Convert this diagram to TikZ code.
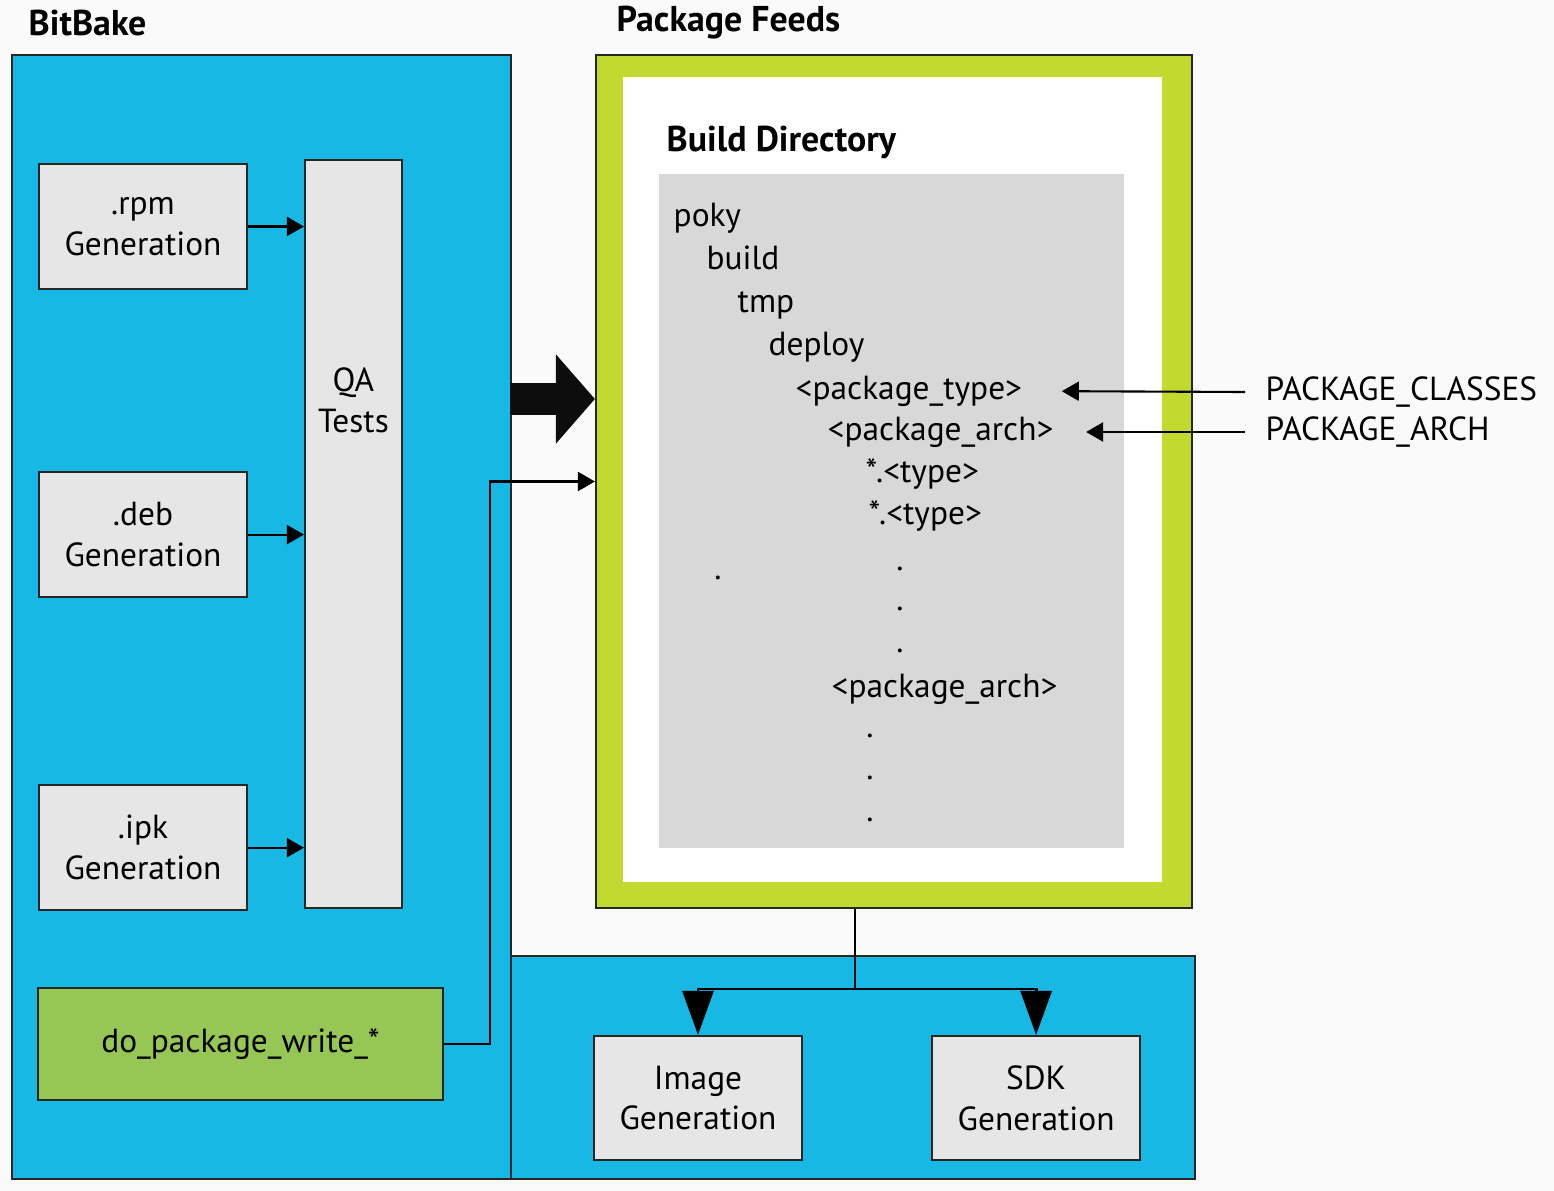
\documentclass[tikz,border=0pt]{standalone}
\usepackage{fontspec}
\setmainfont{PT Sans}
\usetikzlibrary{positioning,arrows.meta}

\definecolor{bakeblue}{HTML}{17B8E3}
\definecolor{feedgreen}{HTML}{C2D930}
\definecolor{taskgreen}{HTML}{96C655}
\definecolor{boxgrey}{HTML}{E6E6E6}
\definecolor{dirgrey}{HTML}{D8D8D8}
\definecolor{paper}{HTML}{FAFAFA}

\newcommand{\txt}{\fontsize{9.5}{11.6}\selectfont}

\tikzset{
  panel/.style={draw=black!85, line width=0.6pt, fill=bakeblue},
  genbox/.style={draw=black!85, line width=0.6pt, fill=boxgrey, align=center, font=\txt,
    minimum width=20.8mm, minimum height=12.5mm},
  entry/.style={anchor=west, inner sep=0pt, font=\txt, text height=0.75em, text depth=0.25em},
  dotmark/.style={anchor=base, inner sep=0pt, font=\txt},
  heading/.style={anchor=west, inner sep=0pt, font=\fontsize{10.2}{12}\selectfont\bfseries},
  tip/.style={line width=0.6pt, -{Triangle[length=1.7mm,width=1.9mm]}},
  bigtip/.style={line width=0.8pt, -{Triangle[length=4.4mm,width=3.1mm]}}
}

\begin{document}
\begin{tikzpicture}[x=0.1mm, y=-0.1mm]
  \fill[paper] (0,0) rectangle (1554,1191);
  \useasboundingbox (0,0) rectangle (1554,1191);

  % panels
  \node[panel, minimum width=49.9mm, minimum height=112.4mm] (bitbake) at (261.5,617) {};
  \node[panel, minimum width=68.4mm, minimum height=22.3mm] (outputs) at (853,1067.5) {};
  \node[draw=black!85, line width=0.6pt, fill=feedgreen, minimum width=59.6mm, minimum height=85.3mm] (feeds) at (894,481.5) {};
  \node[fill=white, minimum width=53.9mm, minimum height=80.5mm] (builddir) at (892.5,479.5) {};
  \node[fill=dirgrey, minimum width=46.5mm, minimum height=67.4mm] (tree) at (891.5,511) {};

  \node[heading] at (28,23) {BitBake};
  \node[heading] at (616,23) {Package Feeds};
  \node[heading] at (666,142) {Build Directory};

  % bitbake side
  \node[genbox] (rpm) at (143,226.5) {.rpm\\Generation};
  \node[genbox, below=18.1mm of rpm] (deb) {.deb\\Generation};
  \node[genbox, below=18.6mm of deb] (ipk) {.ipk\\Generation};
  \node[genbox, minimum width=9.7mm, minimum height=74.8mm] (qa) at (353.5,534) {};
  \node[align=center, font=\txt] (qalabel) at (353.5,400) {QA\\Tests};
  \node[genbox, fill=taskgreen, minimum width=40.5mm, minimum height=11.2mm] (dopkg) at (240.5,1044) {do\_package\_write\_*};

  \draw[tip] (rpm.east) -- (rpm.east -| qa.west);
  \draw[tip] (deb.east) -- (deb.east -| qa.west);
  \draw[tip] (ipk.east) -- (ipk.east -| qa.west);

  % into the feeds
  \coordinate (bigfrom) at (510,399);
  \draw[line width=3.2mm, -{Triangle[length=3.9mm,width=8.7mm]}, black!95] (bigfrom) -- (bigfrom -| feeds.west);
  \draw[tip] (dopkg.east) -- ++(46,0) |- (feeds.west);

  % directory tree
  \node[entry] (poky) at (673,218) {poky};
  \node[entry] (build) at (706,261) {build};
  \node[entry] (tmp) at (737,304) {tmp};
  \node[entry] (deploy) at (768,347) {deploy};
  \node[entry] (ptype) at (795,391) {<package\_type>};
  \node[entry] (parch) at (827,432) {<package\_arch>};
  \node[entry] (type1) at (865,474) {*.<type>};
  \node[entry] (type2) at (868,516) {*.<type>};
  \node[dotmark] (d0) at (718,579) {.};
  \foreach \y [count=\i] in {570,610,652}
    \node[dotmark] (da\i) at (900,\y) {.};
  \node[entry] (parch2) at (831,689) {<package\_arch>};
  \foreach \y [count=\i] in {737,779,821}
    \node[dotmark] (db\i) at (870,\y) {.};

  % variables
  \node[entry] (classes) at (1265,392) {PACKAGE\_CLASSES};
  \node[entry] (archvar) at (1265,432) {PACKAGE\_ARCH};
  \draw[tip, shorten >=3.9mm] (classes.west) ++(-2mm,0) -- (ptype.east);
  \draw[tip, shorten >=3.2mm] (archvar.west) ++(-2mm,0) -- (parch.east);

  % outputs
  \node[genbox, minimum height=12.4mm] (image) at (698,1098) {Image\\Generation};
  \node[genbox, minimum height=12.4mm, right=12.8mm of image] (sdk) {SDK\\Generation};
  \draw[line width=0.8pt] ([xshift=-3.9mm]feeds.south) -- ++(0,80) coordinate (split);
  \draw[bigtip] (split) -| (image.north);
  \draw[bigtip] (split) -| (sdk.north);
\end{tikzpicture}
\end{document}
